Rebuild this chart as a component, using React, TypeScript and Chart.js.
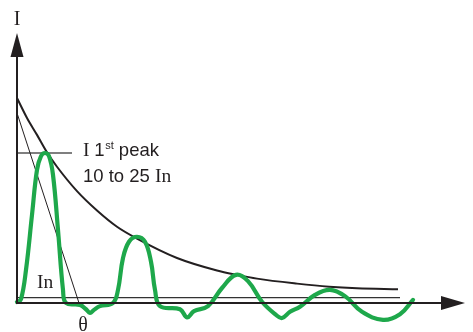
import React, { useEffect, useRef } from "react";
import { Chart, registerables } from "chart.js";

Chart.register(...registerables);

// time axis (arbitrary units), current in multiples of In
const X_MAX = 112;
const Y_MIN = -4;
const Y_MAX = 43.2;

const decayT = [0, 2.5, 5, 7.5, 10, 15, 20, 25, 30, 40, 50, 55, 60, 70, 78, 85, 95.25];
const decayI = [32.8, 29.6, 26.9, 24.1, 21.8, 17.9, 14.8, 12.2, 10.3, 7.2, 5.2, 4.5, 3.9, 3.1, 2.6, 2.35, 2.2];

const greenT = [0, 1, 2.25, 3.75, 5, 6, 7, 8, 9, 10.25, 11.5, 12.25, 15.75, 17.25, 18.25, 19.25, 20.75, 24, 25.25, 26.5, 28, 30, 32, 33.5, 34.5, 35.75, 40.75, 42.5, 44.25, 47.75, 51.25, 54.75, 57.75, 61.25, 64.75, 66.25, 68.25, 70.75, 74.5, 78.25, 82, 86.25, 91.5, 95.75, 99];
const greenI = [0.16, 0.6, 5.3, 14.1, 21.3, 23.5, 24, 23.5, 20.5, 11.7, 2.1, 0, -0.3, -1.0, -1.6, -1.1, -0.5, 0, 2.1, 7.2, 9.8, 10.6, 9.8, 6.6, 2.1, -0.5, -1.0, -2.3, -1.3, -0.5, 2.4, 4.5, 3.5, 0.2, -1.9, -2.4, -1.4, -0.6, 1.3, 2.1, 1.1, -1.4, -2.7, -1.8, 0.5];

const tangentT = [0, 15.5];
const tangentI = [30.4, 0];

const peakLineT = [0, 13.75];
const peakLevel = 24;
const inLineT = [0, 95.75];
const inLevel = 0.85;

const zip = (xs: number[], ys: number[]) => xs.map((x, i) => ({ x, y: ys[i] }));

const SERIF = "'Liberation Serif', 'DejaVu Serif', serif";
const SANS = "'Liberation Sans', Arial, sans-serif";
const INK = "#231f20";

const overlay = {
  id: "overlay",
  afterDatasetsDraw(chart: any) {
    const ctx = chart.ctx;
    const xs = chart.scales.x;
    const ys = chart.scales.y;
    const px = (v: number) => xs.getPixelForValue(v);
    const py = (v: number) => ys.getPixelForValue(v);
    ctx.save();
    ctx.strokeStyle = INK;
    ctx.fillStyle = INK;
    ctx.lineWidth = 2;
    const x0 = px(0);
    const y0 = py(0);
    const xEnd = px(X_MAX);
    const yTop = py(Y_MAX);
    // y axis
    ctx.beginPath();
    ctx.moveTo(x0, y0 + 1);
    ctx.lineTo(x0, yTop + 20);
    ctx.stroke();
    ctx.beginPath();
    ctx.moveTo(x0, yTop);
    ctx.lineTo(x0 - 6.5, yTop + 24);
    ctx.lineTo(x0 + 6.5, yTop + 24);
    ctx.closePath();
    ctx.fill();
    // x axis
    ctx.beginPath();
    ctx.moveTo(x0 - 1, y0);
    ctx.lineTo(xEnd - 20, y0);
    ctx.stroke();
    ctx.beginPath();
    ctx.moveTo(xEnd, y0);
    ctx.lineTo(xEnd - 24, y0 - 7);
    ctx.lineTo(xEnd - 24, y0 + 7);
    ctx.closePath();
    ctx.fill();

    // texts
    ctx.textBaseline = "alphabetic";
    ctx.textAlign = "center";
    ctx.font = `20px ${SERIF}`;
    ctx.fillText("I", px(0), py(44.5));
    ctx.fillText("θ", px(16.5), py(-4.5));

    ctx.textAlign = "left";
    let x = px(16.5);
    let y = py(23.5);
    ctx.font = `19.5px ${SERIF}`;
    ctx.fillText("I ", x, y);
    x += ctx.measureText("I ").width;
    ctx.font = `18.5px ${SANS}`;
    ctx.fillText("1", x, y);
    x += ctx.measureText("1").width;
    ctx.font = `11px ${SANS}`;
    ctx.fillText("st", x + 0.5, y - 7.5);
    x += ctx.measureText("st").width + 0.5;
    ctx.font = `18.5px ${SANS}`;
    ctx.fillText(" peak", x, y);

    x = px(16.5);
    y = py(19.4);
    ctx.font = `18.5px ${SANS}`;
    ctx.fillText("10 to 25 ", x, y);
    x += ctx.measureText("10 to 25 ").width;
    ctx.font = `19.5px ${SERIF}`;
    ctx.fillText("In", x, y);

    ctx.font = `19.5px ${SERIF}`;
    ctx.fillText("In", px(5), py(2.4));
    ctx.restore();
  },
};

export default function App() {
  const ref = useRef<HTMLCanvasElement>(null);
  useEffect(() => {
    if (!ref.current) return;
    const chart = new Chart(ref.current, {
      type: "scatter",
      data: {
        datasets: [
          {
            data: zip(greenT, greenI),
            showLine: true,
            borderColor: "#1ea84b",
            borderWidth: 4.2,
            pointRadius: 0,
            tension: 0.4,
            borderCapStyle: "round",
            borderJoinStyle: "round",
            order: 0,
            clip: false,
          } as any,
          {
            data: zip(decayT, decayI),
            showLine: true,
            borderColor: INK,
            borderWidth: 2,
            pointRadius: 0,
            cubicInterpolationMode: "monotone",
            order: 1,
          } as any,
          {
            data: zip(tangentT, tangentI),
            showLine: true,
            borderColor: INK,
            borderWidth: 1,
            pointRadius: 0,
            order: 2,
          },
          {
            data: zip(peakLineT, peakLineT.map(() => peakLevel)),
            showLine: true,
            borderColor: "#555555",
            borderWidth: 1.3,
            pointRadius: 0,
            order: 2,
          },
          {
            data: zip(inLineT, inLineT.map(() => inLevel)),
            showLine: true,
            borderColor: "#333333",
            borderWidth: 1.3,
            pointRadius: 0,
            order: 2,
          },
        ],
      },
      options: {
        animation: false,
        responsive: false,
        events: [],
        layout: { padding: { left: 17, right: 8, top: 33, bottom: 4 } },
        plugins: { legend: { display: false }, tooltip: { enabled: false } },
        scales: {
          x: { type: "linear", min: 0, max: X_MAX, display: false },
          y: { type: "linear", min: Y_MIN, max: Y_MAX, display: false },
        },
      },
      plugins: [overlay],
    });
    return () => chart.destroy();
  }, []);
  return (
    <div style={{ position: "fixed", left: 0, top: 0, width: 473, height: 332, background: "#fff" }}>
      <canvas ref={ref} width={473} height={332} style={{ display: "block" }} />
    </div>
  );
}
